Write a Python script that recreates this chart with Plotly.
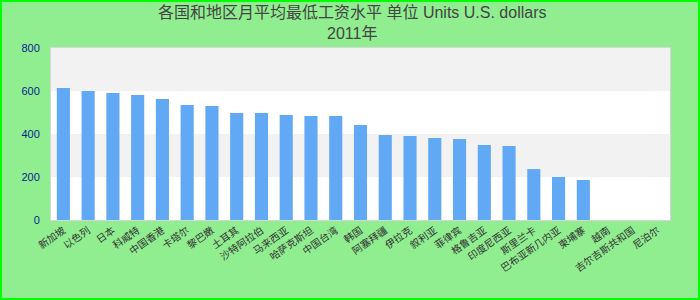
import plotly.graph_objects as go

categories = ["新加坡", "以色列", "日本", "科威特", "中国香港", "卡塔尔", "黎巴嫩", "土耳其",
              "沙特阿拉伯", "马来西亚", "哈萨克斯坦", "中国台湾", "韩国", "阿塞拜疆", "伊拉克",
              "叙利亚", "菲律宾", "格鲁吉亚", "印度尼西亚", "斯里兰卡", "巴布亚新几内亚",
              "柬埔寨", "越南", "吉尔吉斯共和国", "尼泊尔"]
values = [614, 600, 591, 581, 563, 535, 530, 498, 498, 488, 484, 484, 442, 395, 391,
          381, 377, 349, 344, 237, 200, 186, None, None, None]
y_ticks = [0, 200, 400, 600, 800]
bands = [(200, 400), (600, 800)]

title_text = "各国和地区月平均最低工资水平 单位 Units U.S. dollars<br>2011年"

fig = go.Figure()
fig.add_trace(go.Bar(x=categories, y=values, marker=dict(color="#62a9f5", line=dict(width=0)),
                     hoverinfo="x+y"))

shapes = []
for lo, hi in bands:
    shapes.append(dict(type="rect", xref="paper", yref="y", x0=0, x1=1, y0=lo, y1=hi,
                       fillcolor="#f2f2f2", line=dict(width=0), layer="below"))
shapes.append(dict(type="rect", xref="paper", yref="paper", x0=-0.0808, x1=1.0468,
                   y0=-0.459, y1=1.273, line=dict(color="#00ff00", width=2),
                   fillcolor="rgba(0,0,0,0)", layer="below"))

fig.update_layout(
    width=700, height=300,
    margin=dict(l=51, r=30, t=48, b=80),
    paper_bgcolor="#90ee90",
    plot_bgcolor="#ffffff",
    font=dict(family="Liberation Sans, Arial, Noto Sans CJK SC, sans-serif"),
    annotations=[dict(text=title_text, xref="paper", yref="paper", x=0.4865, y=1.268,
                      xanchor="center", yanchor="top", showarrow=False, align="center",
                      font=dict(size=16, color="#444444",
                                family="Liberation Sans, Arial, Noto Sans CJK SC, sans-serif"))],
    bargap=0.47,
    showlegend=False,
    shapes=shapes,
    xaxis=dict(type="category", tickangle=-35, showgrid=False, showline=True,
               linecolor="#d6d6d6", linewidth=1, mirror=True, ticks="",
               tickfont=dict(size=10, color="#333333",
                             family="Noto Sans CJK SC, sans-serif"),
               range=[-0.5, len(categories) - 0.5], fixedrange=True),
    yaxis=dict(range=[0, 800], tickvals=y_ticks, showgrid=False, zeroline=False,
               showline=True, linecolor="#d6d6d6", linewidth=1, mirror=True,
               ticks="", ticklabelstandoff=8,
               tickfont=dict(size=11, color="#0a1f8f",
                             family="Liberation Sans, Arial, sans-serif"),
               fixedrange=True),
)

fig.write_html("out.html")
